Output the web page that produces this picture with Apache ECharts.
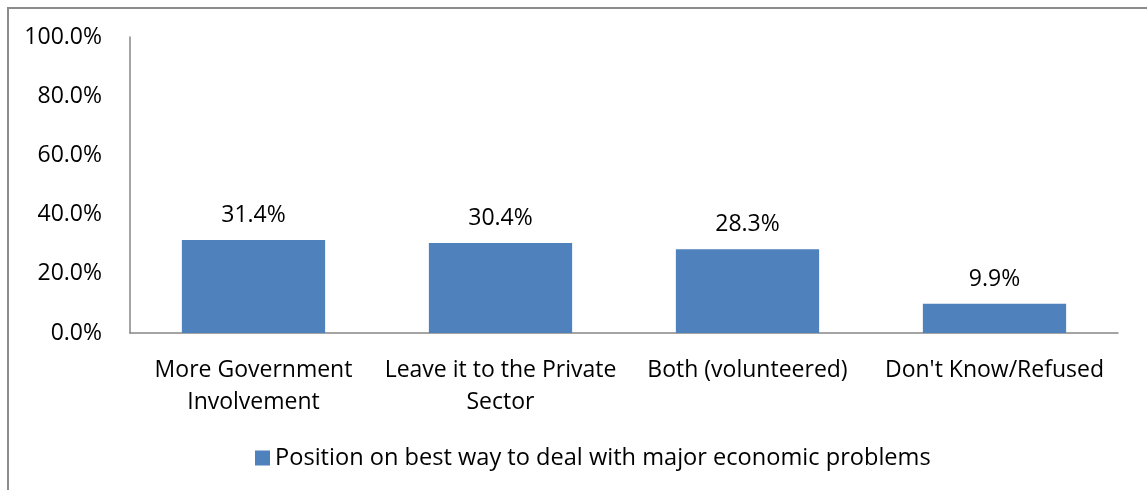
<!DOCTYPE html>
<html>
<head>
<meta charset="utf-8">
<script src="https://cdn.jsdelivr.net/npm/echarts@6/dist/echarts.min.js"></script>
<style>
html,body{margin:0;padding:0;background:#fff;}
#frame{position:absolute;left:7px;top:7px;width:1160px;height:500px;border:2px solid #8c8c8c;box-sizing:border-box;}
#main{position:absolute;left:0;top:0;width:1147px;height:490px;}
</style>
</head>
<body>
<div id="frame"></div>
<div id="main"></div>
<script>
// 分类
var categories = ['More Government\nInvolvement', 'Leave it to the Private\nSector', 'Both (volunteered)', "Don't Know/Refused"];
// 数值 (%)
var values = [31.4, 30.4, 28.3, 9.9];
var seriesName = 'Position on best way to deal with major economic problems';
var yTicks = [0, 20, 40, 60, 80, 100];

var myChart = echarts.init(document.getElementById('main'));
var font = 'Open Sans';
var fs = 23;
var option = {
    animation: false,
    legend: {
        data: [seriesName],
        bottom: 15,
        left: 250,
        icon: 'rect',
        itemWidth: 15,
        itemHeight: 15,
        itemGap: 6,
        textStyle: {fontFamily: font, fontSize: 23.6, color: '#000'}
    },
    grid: {
        left: 130,
        right: 29,
        top: 37,
        bottom: 157
    },
    xAxis: {
        type: 'category',
        data: categories,
        axisLine: {lineStyle: {color: '#868686', width: 1.5}},
        axisTick: {show: false},
        axisLabel: {fontFamily: font, fontSize: fs, color: '#000', margin: 21, lineHeight: 32, interval: 0}
    },
    yAxis: {
        type: 'value',
        min: yTicks[0],
        max: yTicks[yTicks.length - 1],
        interval: 20,
        splitLine: {show: false},
        axisLine: {show: true, lineStyle: {color: '#868686', width: 1.5}},
        axisTick: {show: false},
        axisLabel: {
            fontFamily: font, fontSize: fs, color: '#000', margin: 28,
            formatter: function (v) { return v.toFixed(1) + '%'; }
        }
    },
    series: [{
        name: seriesName,
        type: 'bar',
        data: values,
        barWidth: '58%',
        itemStyle: {color: '#4F81BD'},
        label: {
            show: true,
            position: 'top',
            distance: 13,
            fontFamily: font,
            fontSize: fs,
            color: '#000',
            formatter: function (p) { return p.value.toFixed(1) + '%'; }
        }
    }]
};
myChart.setOption(option);
</script>
</body>
</html>
